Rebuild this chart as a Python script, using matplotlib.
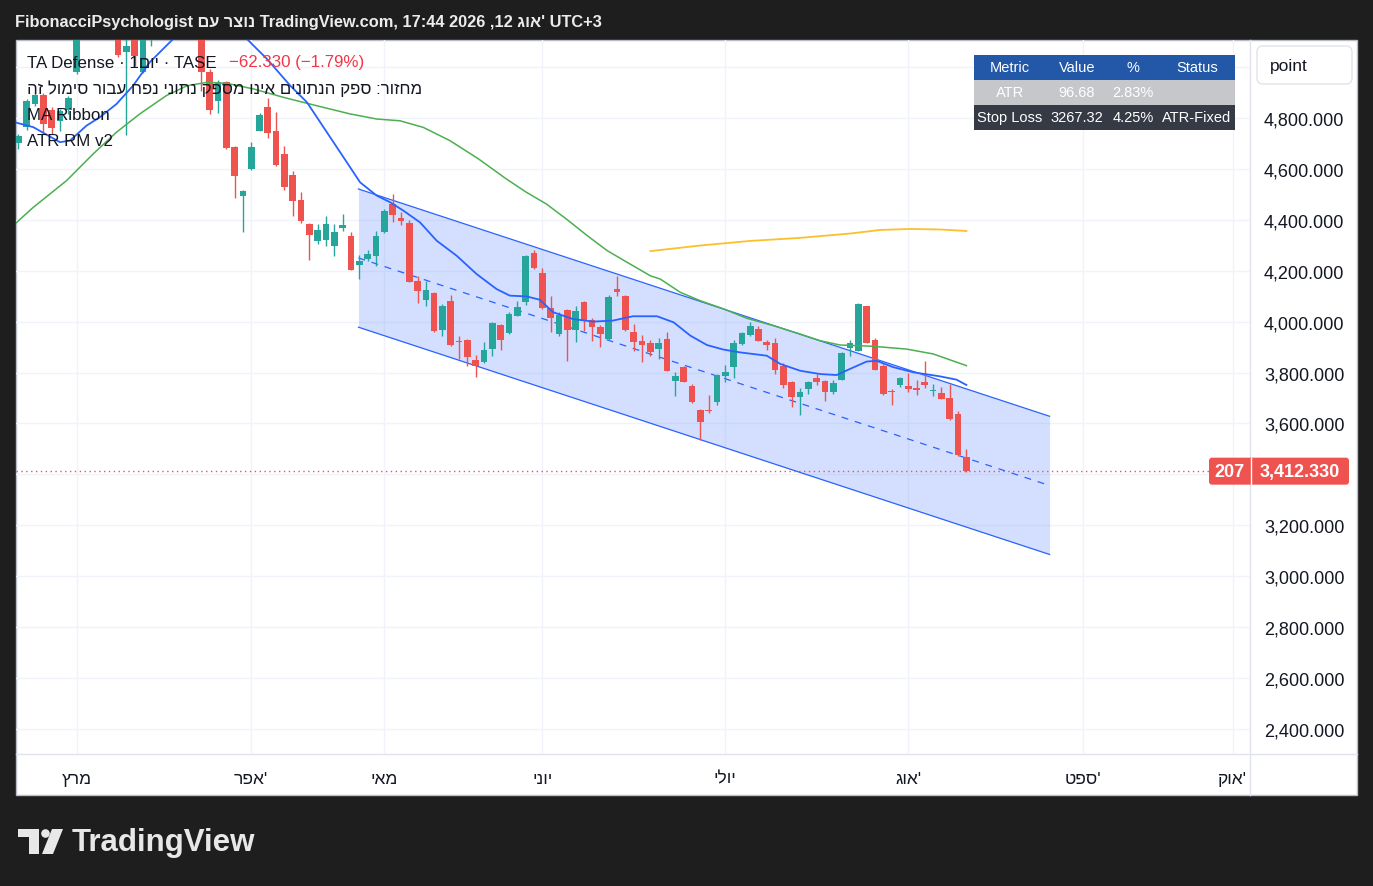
import numpy as np
import matplotlib.pyplot as plt
from matplotlib.patches import Rectangle, FancyBboxPatch, Polygon, Circle

plt.rcParams['font.family'] = ['Liberation Sans', 'DejaVu Sans']


def vis(s):
    # matplotlib has no bidi support, so Hebrew runs go in visual order
    return s[::-1]


# ---------------- data ----------------
opens = [4702, 4765, 4855, 4890, 4831, 4788, 4831, 4982, 5150, 5200,
         5180, 5250, 5220, 5058, 5140, 4982, 5150, 5280, 5350, 5380,
         5340, 5280, 5230, 4982, 4868, 4940, 4685, 4495, 4600, 4750,
         4842, 4748, 4659, 4576, 4478, 4384, 4318, 4322, 4298, 4367,
         4338, 4222, 4246, 4259, 4351, 4462, 4406, 4388, 4160, 4086,
         4113, 3967, 4081, 3924, 3928, 3849, 3840, 3892, 3987, 3954,
         4023, 4076, 4270, 4191, 4052, 3951, 4046, 3968, 4076, 4006,
         3978, 3932, 4128, 4102, 3958, 3924, 3916, 3892, 3932, 3768,
         3821, 3746, 3653, 3653, 3685, 3785, 3823, 3912, 3947, 3971,
         3921, 3916, 3825, 3764, 3703, 3735, 3780, 3767, 3725, 3772,
         3895, 3886, 4060, 3928, 3827, 3729, 3751, 3748, 3740, 3764,
         3727, 3720, 3700, 3637, 3468]
highs = [4737, 4875, 4898, 4898, 4843, 4835, 4887, 5175, 5230, 5260,
         5280, 5300, 5250, 5150, 5170, 5230, 5300, 5380, 5420, 5450,
         5400, 5320, 5260, 4993, 4949, 4945, 4690, 4517, 4705, 4820,
         4877, 4825, 4691, 4593, 4508, 4388, 4384, 4416, 4384, 4423,
         4351, 4262, 4283, 4357, 4443, 4501, 4430, 4400, 4180, 4161,
         4116, 4069, 4105, 3945, 3932, 3869, 3919, 3999, 3991, 4039,
         4082, 4262, 4283, 4210, 4099, 4037, 4050, 4063, 4081, 4013,
         3987, 4105, 4180, 4105, 3991, 3947, 3928, 3935, 3958, 3801,
         3826, 3755, 3657, 3712, 3794, 3830, 3928, 3959, 4000, 3982,
         3928, 3935, 3838, 3767, 3738, 3768, 3793, 3771, 3772, 3881,
         3929, 4073, 4063, 3935, 3834, 3735, 3782, 3798, 3772, 3846,
         3755, 3742, 3755, 3650, 3500]
lows = [4678, 4753, 4847, 4737, 4737, 4749, 4816, 4973, 5120, 5150,
        5160, 5200, 5040, 4734, 5006, 4975, 5084, 5250, 5300, 5320,
        5250, 5180, 4907, 4816, 4820, 4678, 4486, 4353, 4596, 4749,
        4720, 4611, 4518, 4416, 4386, 4243, 4305, 4298, 4257, 4357,
        4203, 4167, 4239, 4220, 4348, 4393, 4380, 4156, 4073, 4063,
        3960, 3945, 3904, 3853, 3827, 3784, 3838, 3866, 3890, 3951,
        4022, 4065, 4207, 4050, 3960, 3945, 3846, 3921, 3964, 3925,
        3899, 3928, 4102, 3963, 3886, 3843, 3866, 3853, 3806, 3707,
        3763, 3679, 3536, 3641, 3672, 3764, 3777, 3908, 3942, 3924,
        3890, 3794, 3738, 3663, 3633, 3716, 3751, 3689, 3716, 3771,
        3864, 3885, 3914, 3810, 3712, 3672, 3744, 3725, 3712, 3738,
        3707, 3694, 3615, 3472, 3409]
closes = [4730, 4867, 4890, 4776, 4761, 4828, 4878, 5150, 5200, 5180,
          5250, 5220, 5049, 5084, 5044, 5200, 5280, 5350, 5380, 5340,
          5280, 5230, 4980, 4833, 4943, 4682, 4573, 4513, 4685, 4812,
          4741, 4615, 4530, 4475, 4397, 4341, 4360, 4384, 4353, 4380,
          4204, 4239, 4266, 4335, 4434, 4420, 4397, 4157, 4122, 4124,
          3964, 4063, 3909, 3920, 3862, 3827, 3889, 3995, 3929, 4030,
          4059, 4257, 4211, 4052, 4013, 4026, 3968, 4041, 4008, 3980,
          3951, 4098, 4118, 3967, 3921, 3909, 3882, 3916, 3807, 3788,
          3764, 3685, 3607, 3649, 3790, 3801, 3916, 3955, 3984, 3925,
          3908, 3811, 3751, 3703, 3725, 3764, 3762, 3725, 3759, 3877,
          3916, 4069, 3916, 3811, 3716, 3725, 3780, 3735, 3731, 3751,
          3729, 3696, 3617, 3474.66, 3412.33]

# MA Ribbon lines (bar index, price)
ma_fast_x = [-0.4, 1.8, 5.0, 6.2, 8.2, 9.8, 11.8, 13.8, 15.8, 18.6, 21, 23, 25,
             27.5, 29.9, 32.7, 34.7, 37.1, 39.5, 41.1, 43.1, 44.7, 46.3, 48.3,
             50.3, 52.7, 55.1, 57.5, 59.1, 61.1, 62.7, 64.3, 66.7, 69.1, 71.5,
             73.9, 76.8, 78.8, 80.8, 82.8, 84.8, 86.8, 90.0, 91.6, 94.0, 96.4,
             98.4, 100.0, 102.0, 103.2, 105.2, 107.6, 110.8, 112.8, 114.0]
ma_fast_y = [4783, 4764, 4705, 4711, 4770, 4803, 4855, 4927, 5019, 5110, 5180,
             5195, 5170, 5110, 5032, 4927, 4862, 4744, 4626, 4547, 4495, 4469,
             4436, 4390, 4318, 4259, 4187, 4128, 4102, 4099, 4086, 4037, 4010,
             4000, 4004, 4021, 4021, 3997, 3945, 3908, 3890, 3879, 3866, 3834,
             3807, 3794, 3790, 3814, 3843, 3846, 3821, 3801, 3785, 3772, 3751]
ma_mid_x = [-0.4, 1.8, 5.8, 9.0, 11.8, 14.6, 17.8, 20.3, 22.7, 25.1, 28.3, 31.9,
            35.9, 39.9, 43.1, 45.9, 48.7, 51.9, 55.3, 58.7, 61.1, 63.5, 65.9,
            68.4, 70.8, 73.2, 76.0, 77.2, 79.6, 82.0, 84.8, 87.6, 90.8, 94.0,
            96.4, 98.8, 102.8, 106.8, 110.0, 114.0]
ma_mid_y = [4384, 4449, 4554, 4659, 4744, 4816, 4888, 4927, 4940, 4936, 4914,
            4881, 4848, 4816, 4796, 4789, 4763, 4711, 4640, 4560, 4508, 4462,
            4403, 4338, 4279, 4233, 4180, 4167, 4115, 4082, 4050, 4013, 3984,
            3951, 3925, 3908, 3903, 3892, 3873, 3827]
ma_slow_x = [76.0, 82.0, 88.0, 94.0, 100.0, 103.6, 107.2, 110.8, 114.0]
ma_slow_y = [4277, 4299, 4317, 4329, 4346, 4360, 4364, 4362, 4356]

# regression channel
chan_x = [40.9, 124.0]
chan_upper = [4521, 3628]
chan_mid = [4250, 3356]
chan_lower = [3978, 3085]

month_pos = [7, 28, 44, 63, 85, 107, 128, 146]
month_names = [vis('מרץ'), vis('אפר') + "'", vis('מאי'), vis('יוני'),
               vis('יולי'), vis('אוג') + "'", vis('ספט') + "'", vis('אוק') + "'"]
price_ticks = np.arange(2400, 5001, 200)

table_header = ['Metric', 'Value', '%', 'Status']
table_rows = [['ATR', '96.68', '2.83%', ''],
              ['Stop Loss', '3267.32', '4.25%', 'ATR-Fixed']]
change_text = '\u221262.330 (\u22121.79%)'
countdown = '207'

# ---------------- figure ----------------
W, H = 1373, 887
fig = plt.figure(figsize=(W / 100, H / 100), dpi=100)
fig.patch.set_facecolor('#1e1e1e')


def frac(x0, y0, x1, y1):
    return [x0 / W, 1 - y1 / H, (x1 - x0) / W, (y1 - y0) / H]


bg = fig.add_axes([0, 0, 1, 1], zorder=0)
bg.set_xlim(0, W)
bg.set_ylim(H, 0)
bg.axis('off')
bg.add_patch(Rectangle((16, 41), 1341, 755, fc='white', ec='#b8bcc6', lw=1))
bg.plot([16, 1357], [755, 755], color='#e0e3eb', lw=1)
bg.plot([1250, 1250], [41, 796], color='#e0e3eb', lw=1)

ax = fig.add_axes(frac(16, 41, 1250, 755), zorder=1)
ax.set_facecolor('none')

red, green = '#ef5350', '#26a69a'
o, h, l, c = map(np.array, (opens, highs, lows, closes))
bars = np.arange(len(o))
col = np.where(c >= o, green, red)

ax.fill_between(chan_x, chan_lower, chan_upper, color='#2962ff', alpha=0.2, lw=0, zorder=1)
ax.plot(chan_x, chan_upper, color='#2962ff', lw=0.9, zorder=2)
ax.plot(chan_x, chan_lower, color='#2962ff', lw=0.9, zorder=2)
ax.plot(chan_x, chan_mid, color='#2962ff', lw=0.9, ls=(0, (5.5, 5.5)), zorder=2)

ax.axhline(c[-1], color=red, lw=1, ls=(0, (1, 2.5)), zorder=3)

ax.vlines(bars, l, h, colors=col, lw=1, zorder=4)
ax.bar(bars, np.maximum(np.abs(c - o), 4), bottom=np.minimum(o, c), width=0.8,
       color=col, lw=0, zorder=5)

ax.plot(ma_mid_x, ma_mid_y, color='#4caf50', lw=1.1, zorder=6)
ax.plot(ma_slow_x, ma_slow_y, color='#fbc02d', lw=1.3, zorder=6)
ax.plot(ma_fast_x, ma_fast_y, color='#2962ff', lw=1.3, zorder=6)

ax.set_xlim(-0.28, 148.1)
ax.set_ylim(2301, 5106.5)
ax.set_yticks(price_ticks)
ax.yaxis.tick_right()
# the 5,000 label sits under the unit box and 3,400 under the last-price label
ax.set_yticklabels([f'{p:,.3f}' if (p < 5000 and abs(p - c[-1]) > 60) else '' for p in price_ticks])
ax.tick_params(axis='y', length=0, pad=10, labelsize=13, labelcolor='#131722')
ax.set_xticks(month_pos)
ax.set_xticklabels(month_names)
ax.tick_params(axis='x', length=0, pad=12, labelsize=12.5, labelcolor='#131722')
ax.grid(True, color='#f0f3fa', lw=1)
ax.set_axisbelow(True)
for s in ax.spines.values():
    s.set_visible(False)

# ---------------- overlay (pixel coordinates) ----------------
top = fig.add_axes([0, 0, 1, 1], zorder=3)
top.set_xlim(0, W)
top.set_ylim(H, 0)
top.axis('off')

header = ('FibonacciPsychologist ' + vis('נוצר עם') + ' TradingView.com, 17:44 2026 ,12 '
          + vis('אוג') + "' UTC+3")
top.text(15, 22, header, color='#ececec', fontsize=11.8, weight='bold', va='center')

ink = '#131722'
fs = 12.2
top.text(27, 63, 'TA Defense \u00b7 1' + vis('יום') + ' \u00b7 TASE', color=ink, fontsize=fs, va='center')
top.text(229, 63, change_text, color='#f23645', fontsize=fs, va='center')
top.text(27, 89, vis('מחזור: ספק הנתונים אינו מספק נתוני נפח עבור סימול זה'),
         color=ink, fontsize=fs, va='center')
top.text(27, 115, 'MA Ribbon', color=ink, fontsize=fs, va='center')
top.text(27, 141, 'ATR RM v2', color=ink, fontsize=fs, va='center')

# table
col_cx = [1010, 1077, 1133, 1197]
row_y = [56, 80.7, 105.7, 130.7]
row_fc = ['#2358a8', '#c6c7cb', '#363a45']
for r, cells in enumerate([table_header] + table_rows):
    top.add_patch(Rectangle((974, row_y[r]), 261, row_y[r + 1] - row_y[r], fc=row_fc[r], ec='none'))
    for cx, txt in zip(col_cx, cells):
        top.text(cx, (row_y[r] + row_y[r + 1]) / 2, txt, color='white', fontsize=10.5,
                 ha='center', va='center')

# unit box on the price scale
top.add_patch(FancyBboxPatch((1257, 47), 95, 38, boxstyle='round,pad=0,rounding_size=6',
                             fc='white', ec='#e0e3eb', lw=1))
top.text(1270, 66, 'point', color=ink, fontsize=12.5, va='center')

# last price label
y_last = H - ax.transData.transform((0, c[-1]))[1]
top.add_patch(FancyBboxPatch((1209, y_last - 13.5), 140, 27, boxstyle='round,pad=0,rounding_size=3',
                             fc=red, ec='none'))
top.plot([1250.5, 1250.5], [y_last - 13.5, y_last + 13.5], color='white', lw=1)
top.text(1229.5, y_last, countdown, color='white', fontsize=13, weight='bold', ha='center', va='center')
top.text(1300, y_last, f'{c[-1]:,.3f}', color='white', fontsize=13, weight='bold', ha='center', va='center')

# footer logo
logo = '#e8e8e8'
top.add_patch(Polygon([(18, 830), (39, 830), (39, 855), (29, 855), (29, 838), (18, 838)], closed=True, fc=logo, ec='none'))
top.add_patch(Circle((45.5, 834.5), 4.3, fc=logo, ec='none'))
top.add_patch(Polygon([(52, 830), (63, 830), (53, 855), (42, 855)], closed=True, fc=logo, ec='none'))
top.text(72, 843, 'TradingView', color=logo, fontsize=22.5, weight='bold', va='center')

fig.savefig('out.png', dpi=100, facecolor=fig.get_facecolor())
